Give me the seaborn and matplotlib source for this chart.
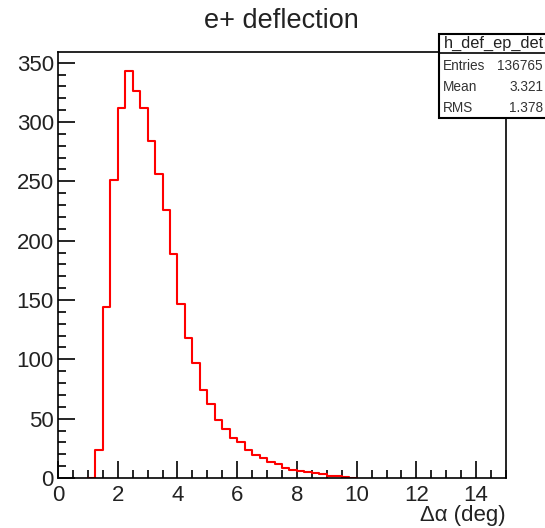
import numpy as np
import pandas as pd
import matplotlib
matplotlib.use("Agg")
import matplotlib.pyplot as plt
from matplotlib.patches import Rectangle
from matplotlib.ticker import MultipleLocator
import seaborn as sns

# histogram binning (deg) and bin contents
bin_start = 1.0
bin_stop = 10.0
bin_width = 0.25
counts = [0, 24, 144, 251, 312, 343, 326, 312, 284, 256, 226, 189,
          147, 118, 97, 74, 62, 49, 41, 34, 30, 24, 19, 17,
          13.5, 11.5, 8.5, 7, 6, 5, 4.5, 3.5, 1.5, 1.5, 1.2, 0]

hist_name = "h_def_ep_det"
stat_labels = ["Entries", "Mean", "RMS"]
stat_values = ["136765", "3.321", "1.378"]

sns.set_theme(style="white")
plt.rcParams['font.family'] = ['Liberation Sans', 'DejaVu Sans']

edges = np.arange(bin_start, bin_stop + bin_width / 2, bin_width)
df = pd.DataFrame({"alpha": edges[:-1] + bin_width / 2, "n": counts})

fig = plt.figure(figsize=(5.45, 5.28), dpi=100)
ax = fig.add_axes([0.1064, 0.0947, 0.822, 0.8068])

sns.histplot(data=df, x="alpha", weights="n", binwidth=bin_width,
             binrange=(bin_start, bin_stop), element="step",
             fill=False, color="#ff0000", linewidth=1.5, ax=ax)

ax.set_xlim(0, 15)
ax.set_ylim(0, 359)
ax.set_xlabel("")
ax.set_ylabel("")
ax.xaxis.set_major_locator(MultipleLocator(2))
ax.xaxis.set_minor_locator(MultipleLocator(0.5))
ax.yaxis.set_major_locator(MultipleLocator(50))
ax.yaxis.set_minor_locator(MultipleLocator(10))
ax.tick_params(which="both", direction="in", top=False, right=False,
               bottom=True, left=True,
               color="black", width=1.2, labelsize=16, labelcolor="#222222")
ax.tick_params(which="major", length=12)
ax.tick_params(which="minor", length=6)
ax.tick_params(axis="x", pad=5)
ax.tick_params(axis="y", pad=3)
for sp in ax.spines.values():
    sp.set_color("black")
    sp.set_linewidth(1.2)
    sp.set_visible(True)

fig.text(0.516, 1 - 28 / 528, "e+ deflection", ha="center", va="baseline",
         fontsize=19.5, color="#222222")
fig.text(0.928, 7 / 528, "Δα (deg)", ha="right", va="baseline",
         fontsize=16, color="#222222")

# stats box
bx0, bx1 = 438.6 / 545, 1.02
by_top, by_div, by_bot = 1 - 33.7 / 528, 1 - 53 / 528, 1 - 118 / 528
fig.patches.append(Rectangle((bx0, by_bot), bx1 - bx0, by_top - by_bot,
                             transform=fig.transFigure, facecolor="white",
                             edgecolor="black", linewidth=1.5, zorder=5))
fig.add_artist(plt.Line2D([bx0, bx1], [by_div, by_div], color="black",
                          linewidth=1.2, transform=fig.transFigure, zorder=6))
fig.text(494 / 545, 1 - 43.5 / 528, hist_name, ha="center", va="center",
         fontsize=11.8, color="#222222", zorder=7)
for i, (lab, val) in enumerate(zip(stat_labels, stat_values)):
    yy = 1 - (66 + 20.8 * i) / 528
    fig.text(443 / 545, yy, lab, ha="left", va="center", fontsize=9.8,
             color="#333333", zorder=7)
    fig.text(543 / 545, yy, val, ha="right", va="center", fontsize=9.8,
             color="#333333", zorder=7)

fig.savefig("out.png", dpi=100)
